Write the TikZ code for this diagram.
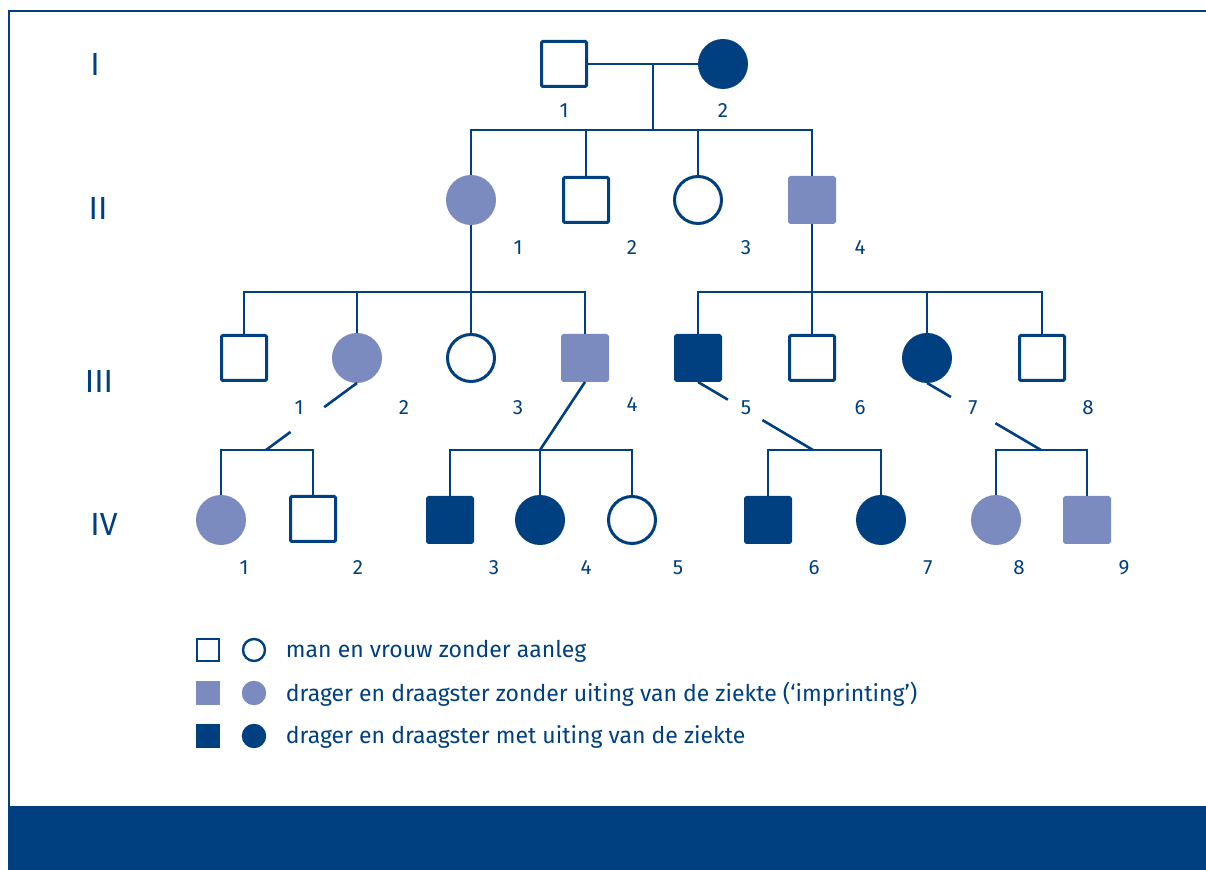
\documentclass[tikz,border=0pt]{standalone}
\usepackage{fontspec}
\setmainfont{Fira Sans}
\usetikzlibrary{positioning}
\usetikzlibrary{calc}
\definecolor{pdark}{RGB}{0,63,128}
\definecolor{plight}{RGB}{123,139,191}

\begin{document}
\begin{tikzpicture}[x=0.5pt,y=-0.5pt,color=pdark,line width=1.3pt,
  male/.style={rectangle,draw=pdark,line width=1.5pt,minimum size=22.5pt,inner sep=0pt,rounded corners=0.6pt},
  female/.style={circle,draw=pdark,line width=1.5pt,minimum size=23.5pt,inner sep=0pt},
  carrier/.style={fill=plight,draw=plight},
  affected/.style={fill=pdark},
  keymale/.style={rectangle,draw=pdark,line width=1.2pt,minimum size=11pt,inner sep=0pt},
  keyfemale/.style={circle,draw=pdark,line width=1.2pt,minimum size=11pt,inner sep=0pt},
  num/.style={font=\fontsize{10.3}{12}\selectfont},
  gen/.style={font=\fontsize{16}{18}\selectfont},
  keytext/.style={anchor=west,font=\fontsize{11.5}{13}\selectfont}]
\useasboundingbox (0,0) rectangle (1206,870);

% frame
\draw[line width=1.4pt] (9,806) -- (9,11) -- (1206,11);
\fill[pdark] (8,806) rectangle (1206,870);

% generations
\node[gen] (g1) at (95,64) {I};
\node[gen] (g2) at (98,208) {II};
\node[gen] (g3) at (99,381) {III};
\node[gen] (g4) at (104,524) {IV};

% generation I
\node[male] (m11) at (564,64) {};
\node[female,affected] (f12) at (723,64) {};
\node[num] at (564,111) {1};
\node[num] at (723,111) {2};

% generation II
\node[female,carrier] (f21) at (471,200) {};
\node[male] (m22) at (586,200) {};
\node[female] (f23) at (698,200) {};
\node[male,carrier] (m24) at (812,200) {};
\node[num] at (518,248) {1};
\node[num] at (632,248) {2};
\node[num] at (746,248) {3};
\node[num] at (860,248) {4};

% generation III
\node[male] (m31) at (244,358) {};
\node[female,carrier] (f32) at (357,358) {};
\node[female] (f33) at (471,358) {};
\node[male,carrier] (m34) at (585,358) {};
\node[male,affected] (m35) at (698,358) {};
\node[male] (m36) at (812,358) {};
\node[female,affected] (f37) at (927,358) {};
\node[male] (m38) at (1042,358) {};
\node[num] at (299,408) {1};
\node[num] at (404,408) {2};
\node[num] at (518,408) {3};
\node[num] at (632,405) {4};
\node[num] at (746,408) {5};
\node[num] at (860,408) {6};
\node[num] at (973,408) {7};
\node[num] at (1088,408) {8};

% generation IV
\node[female,carrier] (f41) at (221,520) {};
\node[male] (m42) at (313,519) {};
\node[male,affected] (m43) at (450,520) {};
\node[female,affected] (f44) at (540,520) {};
\node[female] (f45) at (632,520) {};
\node[male,affected] (m46) at (768,520) {};
\node[female,affected] (f47) at (881,520) {};
\node[female,carrier] (f48) at (996,520) {};
\node[male,carrier] (m49) at (1087,520) {};
\node[num] at (244,568) {1};
\node[num] at (358,568) {2};
\node[num] at (494,568) {3};
\node[num] at (586,568) {4};
\node[num] at (678,568) {5};
\node[num] at (814,568) {6};
\node[num] at (928,568) {7};
\node[num] at (1019,568) {8};
\node[num] at (1124,568) {9};

% lines I -> II
\coordinate (k1) at (653,64);
\coordinate (s1) at (653,130);
\draw (m11) -- (f12);
\draw (k1) -- (s1);
\draw (f21.north) |- (s1) -| (m24.north);
\draw (m22.north) -- (m22.north |- s1);
\draw (f23.north) -- (f23.north |- s1);

% lines II -> III
\coordinate (s2) at (471,292);
\coordinate (s3) at (812,292);
\draw (f21) -- (s2);
\draw (m31.north) |- (s2) -| (m34.north);
\draw (f32.north) -- (f32.north |- s2);
\draw (f33.north) -- (f33.north |- s2);
\draw (m24) -- (s3);
\draw (m35.north) |- (s3) -| (m38.north);
\draw (m36.north) -- (s3);
\draw (f37.north) -- (f37.north |- s3);

% lines III -> IV
\coordinate (s4) at (266,450);
\coordinate (s5) at (540,450);
\coordinate (s6) at (813,450);
\coordinate (s7) at (1041,450);
\draw (f32.south) -- ($(f32.south)!0.36!(s4)$);
\draw ($(f32.south)!0.73!(s4)$) -- (s4);
\draw (f41.north) |- (s4) -| (m42.north);
\draw (m34.south) -- (s5);
\draw (m43.north) |- (s5) -| (f45.north);
\draw (f44.north) -- (s5);
\draw (m35.south) -- ($(m35.south)!0.26!(s6)$);
\draw ($(m35.south)!0.56!(s6)$) -- (s6);
\draw (m46.north) |- (s6) -| (f47.north);
\draw (f37.south) -- ($(f37.south)!0.21!(s7)$);
\draw ($(f37.south)!0.6!(s7)$) -- (s7);
\draw (f48.north) |- (s7) -| (m49.north);

% legend
\node[keymale] (km1) at (208,650) {};
\node[keyfemale] (kf1) at (254,650) {};
\node[keymale,carrier] (km2) at (208,693) {};
\node[keyfemale,carrier] (kf2) at (254,693) {};
\node[keymale,affected] (km3) at (208,736) {};
\node[keyfemale,affected] (kf3) at (254,736) {};
\node[keytext] (kt1) at (278,651) {man en vrouw zonder aanleg};
\node[keytext] (kt2) at (278,694) {drager en draagster zonder uiting van de ziekte (‘imprinting’)};
\node[keytext] (kt3) at (278,737) {drager en draagster met uiting van de ziekte};
\end{tikzpicture}
\end{document}
